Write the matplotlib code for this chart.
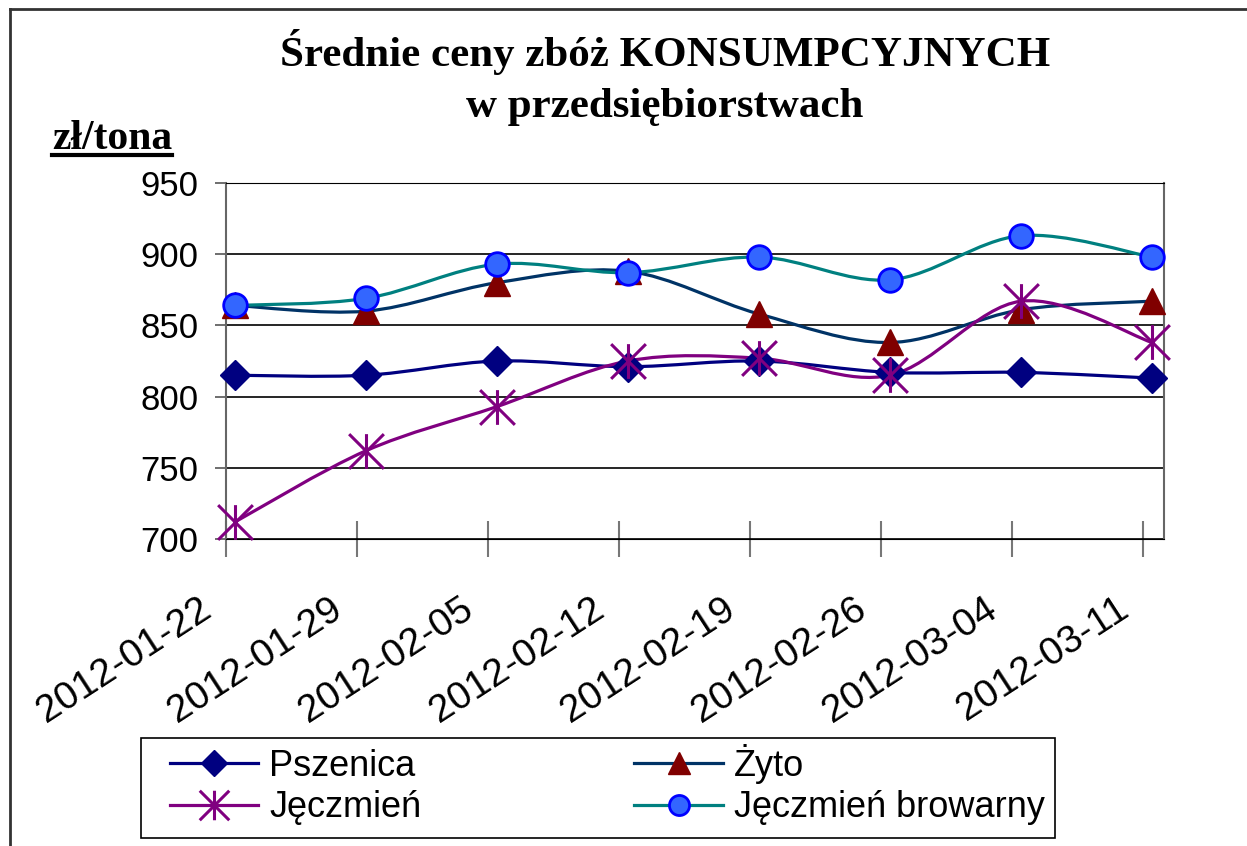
import numpy as np
import matplotlib.pyplot as plt
from matplotlib.path import Path
from matplotlib.patches import PathPatch, Rectangle
from matplotlib.lines import Line2D
from matplotlib.transforms import ScaledTranslation

# data
categories = ['2012-01-22', '2012-01-29', '2012-02-05', '2012-02-12',
              '2012-02-19', '2012-02-26', '2012-03-04', '2012-03-11']
pszenica = [815, 815, 825, 821, 825, 817, 817, 813]
zyto = [864, 860, 880, 888, 858, 838, 861, 867]
jeczmien = [712, 762, 793, 825, 827, 815, 867, 838]
browarny = [864, 869, 893, 887, 898, 882, 913, 898]
names = ['Pszenica', 'Żyto', 'Jęczmień', 'Jęczmień browarny']


def smooth_path(xs, ys):
    # bezier curve through the points (excel-like smoothing)
    pts = np.column_stack([xs, ys]).astype(float)
    n = len(pts)
    verts = [pts[0]]
    codes = [Path.MOVETO]
    for i in range(n - 1):
        p0 = pts[i - 1] if i > 0 else pts[i]
        p1 = pts[i]
        p2 = pts[i + 1]
        p3 = pts[i + 2] if i + 2 < n else pts[i + 1]
        c1 = p1 + (p2 - p0) / 6.0
        c2 = p2 - (p3 - p1) / 6.0
        verts += [c1, c2, p2]
        codes += [Path.CURVE4] * 3
    return Path(verts, codes)


star = Path([(0, -1), (0, 1), (-1, -1), (1, 1), (-1, 1), (1, -1)],
            [Path.MOVETO, Path.LINETO] * 3)

styles = [
    dict(color='#000080', marker='D', ms=15, mfc='#000080', mec='#000080', mew=1),
    dict(color='#003366', marker='^', ms=19, mfc='#800000', mec='#800000', mew=1),
    dict(color='#800080', marker=star, ms=25, mfc='none', mec='#800080', mew=2.2),
    dict(color='#008080', marker='o', ms=17, mfc='#3366FF', mec='#0000FF', mew=2),
]

fig = plt.figure(figsize=(12.47, 8.46), dpi=100)
ax = fig.add_axes([226 / 1247, 1 - 539 / 846, 938 / 1247, 356 / 846])

x = np.arange(len(categories))
series = [pszenica, zyto, jeczmien, browarny]
handles = []
for ys, st in zip(series, styles):
    p = PathPatch(smooth_path(x, ys), facecolor='none', edgecolor=st['color'],
                  lw=2.3, zorder=3, capstyle='round')
    ax.add_patch(p)
    ax.plot(x, ys, ls='none', marker=st['marker'], ms=st['ms'], mfc=st['mfc'],
            mec=st['mec'], mew=st['mew'], zorder=4, clip_on=False)
    handles.append(Line2D([], [], color=st['color'], lw=2.3, marker=st['marker'],
                          ms=st['ms'] * 0.85, mfc=st['mfc'], mec=st['mec'], mew=st['mew']))

off = 0.069
ax.set_xlim(-off, 7.16 - off)
ax.set_ylim(700, 950)
ax.set_yticks([700, 750, 800, 850, 900, 950])
ax.grid(axis='y', color='black', lw=1.2)
ax.set_axisbelow(True)
ax.set_xticks(x - off)
ax.set_xticklabels(categories, rotation=33, ha='right', rotation_mode='anchor',
                   fontsize=28, family='Liberation Sans')
ax.tick_params(axis='x', direction='inout', length=26, width=1.5, color='#777777', pad=14)
ax.tick_params(axis='y', direction='out', length=8, width=1.2, color='#555555',
               labelsize=25, pad=12)
for lab in ax.get_yticklabels():
    lab.set_family('Liberation Sans')
shift = ScaledTranslation(-0.28, -0.14, fig.dpi_scale_trans)
for lab in ax.get_xticklabels():
    lab.set_transform(lab.get_transform() + shift)
for s in ['left', 'right']:
    ax.spines[s].set_color('#666666')
    ax.spines[s].set_linewidth(1.5)
ax.spines['top'].set_color('black')
ax.spines['bottom'].set_color('black')

# titles
fig.text(665 / 1247, 1 - 52 / 846, 'Średnie ceny zbóż KONSUMPCYJNYCH', ha='center',
         va='center', family='Liberation Serif', weight='bold', fontsize=31)
fig.text(665 / 1247, 1 - 107 / 846, 'w przedsiębiorstwach', ha='center',
         va='center', family='Liberation Serif', weight='bold', fontsize=31)
unit = fig.text(52 / 1247, 1 - 149 / 846, 'zł/tona', ha='left', va='baseline',
                family='Liberation Serif', weight='bold', fontsize=30)
fig.canvas.draw()
bb = unit.get_window_extent()
fig.add_artist(Line2D([bb.x0 / 1247, bb.x1 / 1247], [1 - 155 / 846] * 2,
                      color='black', lw=3))

# legend filled row by row like the original
order = [0, 2, 1, 3]
leg = ax.legend([handles[i] for i in order], [names[i] for i in order], ncol=2,
                loc='upper left', bbox_to_anchor=(170 / 1247, 1 - 744 / 846),
                bbox_transform=fig.transFigure, frameon=False, handlelength=2.45,
                prop={'family': 'Liberation Sans', 'size': 26}, borderpad=0,
                labelspacing=0.17, handletextpad=0.3, columnspacing=5.9,
                borderaxespad=0)
fig.add_artist(Rectangle((141 / 1247, 1 - 838 / 846), 914 / 1247, 100 / 846,
                         transform=fig.transFigure, fill=False, ec='black', lw=1.2))

# outer border of the chart area
fig.add_artist(Line2D([10 / 1247, 10 / 1247], [0, 1 - 9 / 846], color='#333333', lw=2))
fig.add_artist(Line2D([10 / 1247, 1], [1 - 9 / 846] * 2, color='#333333', lw=2))

fig.savefig('out.png', dpi=100)
